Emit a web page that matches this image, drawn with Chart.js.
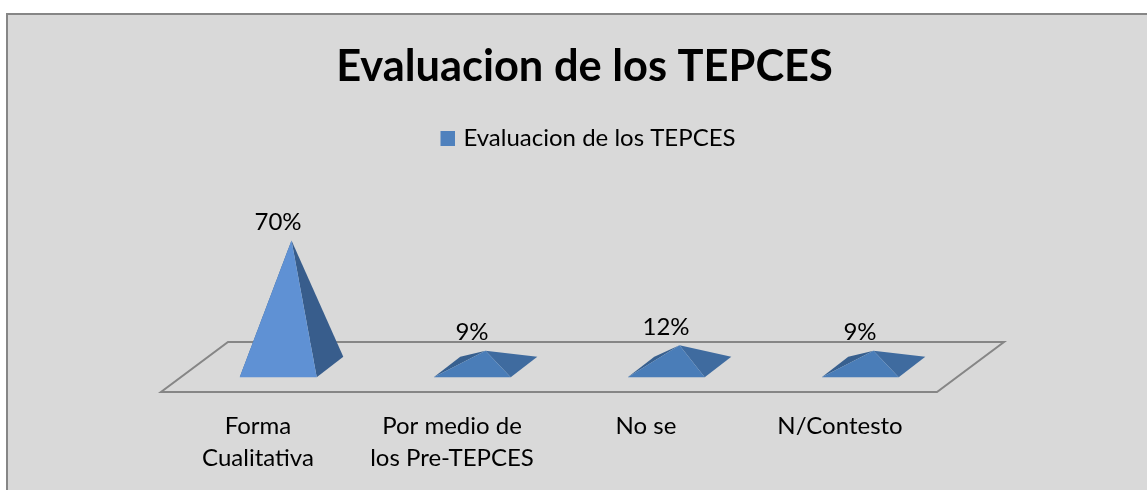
<!DOCTYPE html>
<html lang="es">
<head>
<meta charset="utf-8">
<title>Evaluacion de los TEPCES</title>
<script src="https://cdn.jsdelivr.net/npm/chart.js@4/dist/chart.umd.min.js"></script>
<style>
  html, body { margin: 0; height: 100%; background: #fff; overflow: hidden; }
  #panel { position: absolute; left: 6px; top: 13px; width: 1200px; height: 600px;
           background: #D9D9D9; border: 2px solid #868686; }
  #chart { position: absolute; left: 0; top: 0; }
</style>
</head>
<body>
<div id="panel"></div>
<canvas id="chart" width="1147" height="490"></canvas>
<script>
/* Excel style 3D pyramid chart, drawn on top of the bar scales. */
const CHART_TITLE = "Evaluacion de los TEPCES";
const SERIES_NAME = "Evaluacion de los TEPCES";
const categories = [["Forma", "Cualitativa"], ["Por medio de", "los Pre-TEPCES"], "No se", "N/Contesto"];
const values = [70, 9, 12, 9];

const FONT = "Lato";
const LINE = "#868686";
const SERIES_COLOR = "#4F81BD";

function poly(ctx, color, pts) {
  ctx.fillStyle = color;
  ctx.beginPath();
  pts.forEach((p, i) => (i ? ctx.lineTo(p[0], p[1]) : ctx.moveTo(p[0], p[1])));
  ctx.closePath();
  ctx.fill();
}

/* legend swatch sits closer to its text than Chart.js allows, so shift it inside its image */
function legendSwatch() {
  const c = document.createElement("canvas");
  c.width = 26;
  c.height = 15;
  const g = c.getContext("2d");
  g.fillStyle = SERIES_COLOR;
  g.fillRect(11, 0, 15, 15);
  return c;
}

class PyramidController extends Chart.BarController {
  draw() {
    const ctx = this.chart.ctx;
    const data = this.getDataset().data;
    this.getMeta().data.forEach((bar, i) => {
      const hw = bar.width / 2;
      const dx = bar.width * 0.345, dy = bar.width * 0.265;
      const cx = bar.x + 33.5;
      const apex = [cx, bar.y];
      const fl = [cx - dx / 2 - hw, bar.base + dy / 2];
      const fr = [cx - dx / 2 + hw, bar.base + dy / 2];
      const bl = [fl[0] + dx, fl[1] - dy];
      const br = [fr[0] + dx, fr[1] - dy];
      const steep = bar.base - bar.y > bar.width;
      ctx.save();
      poly(ctx, "#38608F", [fl, bl, apex]);
      poly(ctx, steep ? "#385D8C" : "#3F6B9F", [fr, br, apex]);
      poly(ctx, steep ? "#5F91D4" : "#4A7DB8", [fl, fr, apex]);
      ctx.fillStyle = "#000";
      ctx.font = "24px " + FONT;
      ctx.textAlign = "center";
      ctx.textBaseline = "middle";
      ctx.fillText(data[i] + "%", bar.x + 20, bar.y - 18);
      ctx.restore();
    });
  }
}
PyramidController.id = "pyramid";
Chart.register(PyramidController);

const floorPlugin = {
  id: "floor",
  beforeDatasetsDraw(chart) {
    const { ctx, scales: { x, y } } = chart;
    const y0 = y.getPixelForValue(0);
    ctx.save();
    ctx.strokeStyle = LINE;
    ctx.lineWidth = 2;
    ctx.beginPath();
    ctx.moveTo(x.left, y0 + 25);
    ctx.lineTo(x.right, y0 + 25);
    ctx.lineTo(x.right + 67, y0 - 25);
    ctx.lineTo(x.left + 67, y0 - 25);
    ctx.closePath();
    ctx.stroke();
    ctx.restore();
  },
};

new Chart(document.getElementById("chart"), {
  type: "pyramid",
  plugins: [floorPlugin],
  data: {
    labels: categories,
    datasets: [{
      label: SERIES_NAME,
      data: values,
      backgroundColor: SERIES_COLOR,
      borderWidth: 0,
      clip: false,
      categoryPercentage: 1,
      barPercentage: 0.397,
    }],
  },
  options: {
    responsive: false,
    animation: false,
    layout: { padding: { left: 22, right: 0, top: 0, bottom: 0 } },
    plugins: {
      tooltip: { enabled: false },
      title: {
        display: true,
        text: CHART_TITLE,
        color: "#000",
        font: { family: FONT, size: 43.4, weight: "bold" },
        padding: { top: 41, bottom: 23 },
      },
      legend: {
        position: "top",
        labels: {
          color: "#000",
          font: { family: FONT, size: 24 },
          boxWidth: 15,
          boxHeight: 15,
          padding: 10,
          usePointStyle: true,
          pointStyle: legendSwatch(),
          pointStyleWidth: 18,
        },
      },
    },
    scales: {
      x: {
        grid: { display: false, drawTicks: false },
        border: { display: false },
        ticks: {
          color: "#000",
          font: { family: FONT, size: 24, lineHeight: 1.333 },
          padding: 43,
          maxRotation: 0,
          autoSkip: false,
        },
        afterFit(s) { s.height = 123; },
      },
      y: {
        min: 0,
        max: 114.5,
        grid: { display: false },
        border: { display: false },
        ticks: { display: false },
        afterFit(s) { s.width = 139; },
      },
      y2: {
        position: "right",
        grid: { display: false },
        border: { display: false },
        ticks: { display: false },
        afterFit(s) { s.width = 210; },
      },
    },
  },
});
</script>
</body>
</html>
